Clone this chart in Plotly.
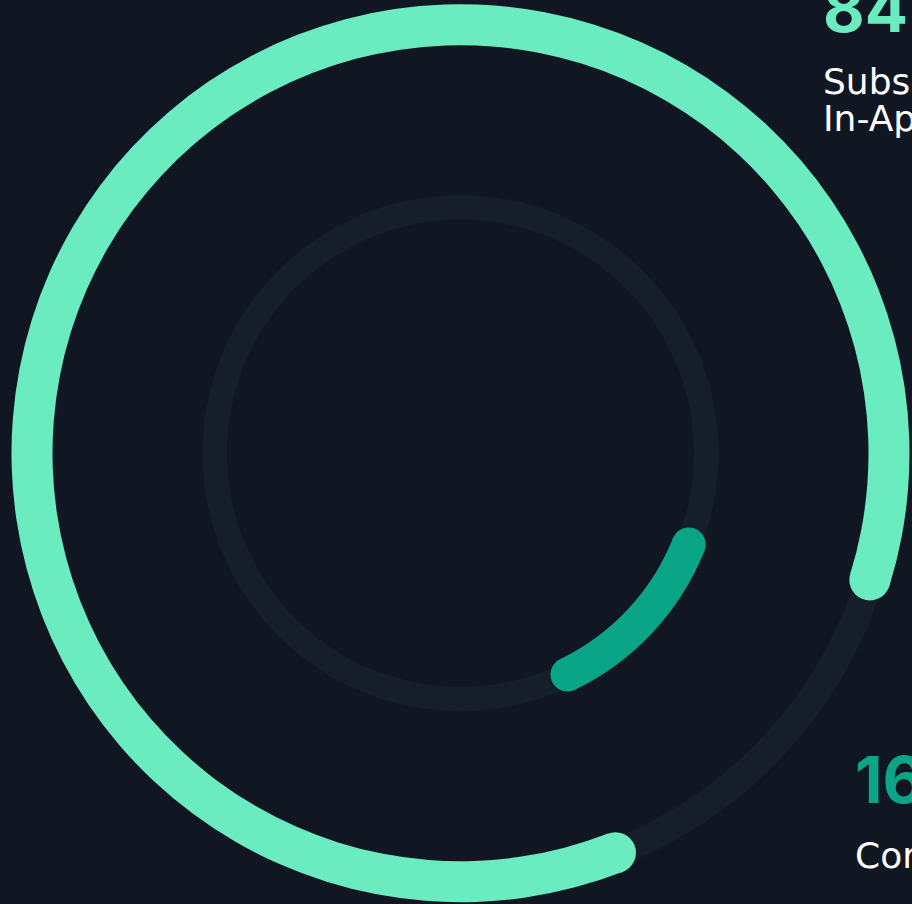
import math
import plotly.graph_objects as go

# ---------------- data ----------------
segments = ["Subscriptions & In-App Purchases", "Corporate Licenses"]
values = [84, 16]                     # percent share
value_labels = ["84%", "16%"]
label_lines = [["Subscriptions &", "In-App Purchases"], ["Corporate Licenses"]]

# ---------------- style / layout ----------------
W, H = 912, 904
BG = "#111722"
COLORS = ["#6aebc0", "#0aa586"]
TRACK = "#161e29"
NUM_FONT = "Inter"
LABEL_FONT = "DejaVu Sans"
LABEL_SIZE = 36

CX, CY = 460.5, 453.2          # ring centre (px)
RP = 450.0                     # polar radius (px) for radial range [0, 1]
RING_R = [428.5, 245.8]        # ring centre-line radius (px)
ARC_W = [41.0, 34.0]           # arc thickness (px)
TRACK_W = [28.0, 24.5]         # track thickness (px)
GAP_MID = 133.0                # angle (deg, clockwise from 12 o'clock) of the outer gap
SWEEP_ADJ = [6.0, -15.2]       # extra sweep per ring (deg) for cap treatment
DEG_PER_PCT = 3.6

fig = go.Figure()

def px2r(px):
    return px / RP

# tracks
for i in range(2):
    fig.add_trace(go.Barpolar(
        r=[px2r(TRACK_W[i])], base=[px2r(RING_R[i] - TRACK_W[i] / 2)],
        theta=[GAP_MID], width=[360],
        marker=dict(color=TRACK, line=dict(width=0)),
        hoverinfo="skip", showlegend=False))

# arcs + round caps
for i, v in enumerate(values):
    sweep = v * DEG_PER_PCT + SWEEP_ADJ[i]
    mid = GAP_MID + 180 if i == 0 else GAP_MID
    fig.add_trace(go.Barpolar(
        r=[px2r(ARC_W[i])], base=[px2r(RING_R[i] - ARC_W[i] / 2)],
        theta=[mid], width=[sweep],
        marker=dict(color=COLORS[i], line=dict(width=0)),
        name=segments[i], showlegend=False))
    ends = [mid - sweep / 2, mid + sweep / 2]
    fig.add_trace(go.Scatterpolar(
        r=[px2r(RING_R[i])] * 2, theta=ends, mode="markers",
        marker=dict(size=ARC_W[i], color=COLORS[i], line=dict(width=0)),
        cliponaxis=False, hoverinfo="skip", showlegend=False))

dom_x = [(CX - RP) / W, (CX + RP) / W]
dom_y = [(H - CY - RP) / H, (H - CY + RP) / H]

fig.update_layout(
    width=W, height=H, margin=dict(l=0, r=0, t=0, b=0),
    paper_bgcolor=BG, plot_bgcolor=BG, showlegend=False,
    polar=dict(
        domain=dict(x=dom_x, y=dom_y), bgcolor=BG, barmode="overlay", hole=0,
        radialaxis=dict(range=[0, 1], visible=False, showgrid=False),
        angularaxis=dict(visible=False, rotation=90, direction="clockwise",
                         showgrid=False),
    ),
)

def ann(text, x_px, y_px, size, color, family, bold=False):
    fig.add_annotation(
        text=f"<b>{text}</b>" if bold else text,
        xref="paper", yref="paper", x=x_px / W, y=1 - y_px / H,
        xanchor="left", yanchor="middle", showarrow=False,
        font=dict(family=family, size=size, color=color))

# baseline-based placement (centre ~ baseline - 0.36*size)
ann(value_labels[0], 821, 32 - 0.3635 * 64, 64, COLORS[0], NUM_FONT, bold=True)
ann(label_lines[0][0], 821, 94 - 0.36 * LABEL_SIZE, LABEL_SIZE, "#ffffff", LABEL_FONT)
ann(label_lines[0][1], 821, 131 - 0.36 * LABEL_SIZE, LABEL_SIZE, "#ffffff", LABEL_FONT)
ann(value_labels[1], 853, 803 - 0.3635 * 64, 64, COLORS[1], NUM_FONT, bold=True)
ann(label_lines[1][0], 853, 868 - 0.36 * LABEL_SIZE, LABEL_SIZE, "#ffffff", LABEL_FONT)

fig.write_html("out.html", config={"displayModeBar": False},
               post_script="document.body.style.margin='0';document.body.style.overflow='hidden';")
